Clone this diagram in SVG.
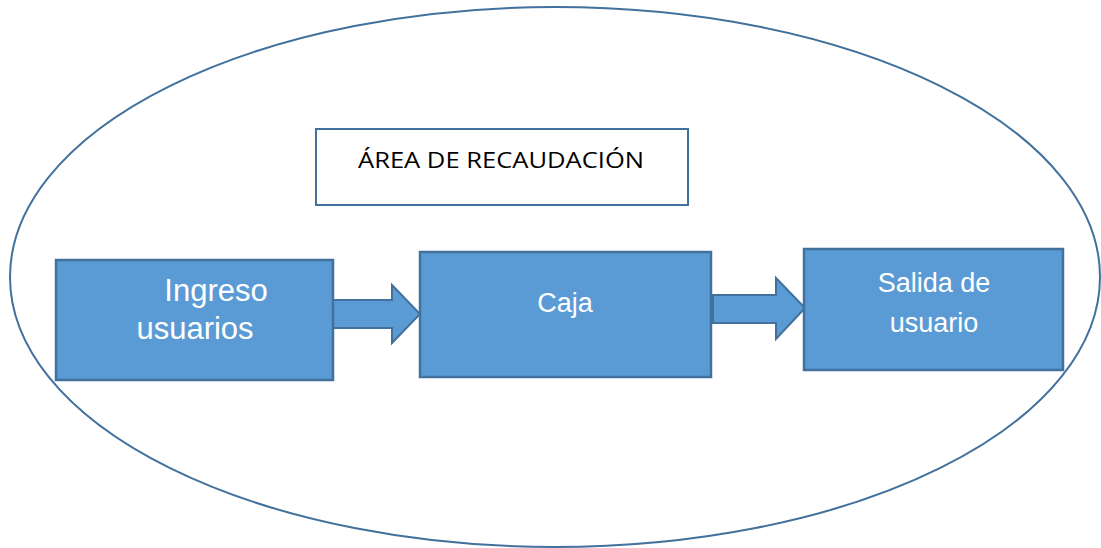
<svg xmlns="http://www.w3.org/2000/svg" width="1101" height="548" viewBox="0 0 1101 548">
<style>
.box{fill:#5b9bd5;stroke:#41719c;stroke-width:2.5}
.arrow{fill:#5b9bd5;stroke:#41719c;stroke-width:2;stroke-linejoin:miter}
.wt{fill:#ffffff;font-family:"Liberation Sans",Arial,sans-serif;text-anchor:middle}
</style>
<rect width="1101" height="548" fill="#ffffff"/>
<g id="area">
<ellipse cx="555" cy="277" rx="545" ry="270" fill="none" stroke="#41719c" stroke-width="2"/>
</g>
<g id="titulo">
<rect x="316" y="129" width="372" height="76" fill="#ffffff" stroke="#41719c" stroke-width="2"/>
<text x="358" y="168" font-family="'Open Sans','Liberation Sans',sans-serif" font-size="21" fill="#000000" textLength="286" lengthAdjust="spacingAndGlyphs">ÁREA DE RECAUDACIÓN</text>
</g>
<g id="connectors">
<polygon class="arrow" points="333,300 392,300 392,285 420,314 392,343 392,328 333,328"/>
<polygon class="arrow" points="713,295 776,295 776,278 805,308 776,339 776,323 713,323"/>
</g>
<g id="ingreso">
<rect class="box" x="56" y="260" width="277" height="120"/>
<text class="wt" x="216" y="301" font-size="31">Ingreso</text>
<text class="wt" x="195" y="339" font-size="31">usuarios</text>
</g>
<g id="caja">
<rect class="box" x="420" y="252" width="291" height="125"/>
<text class="wt" x="565" y="312" font-size="27">Caja</text>
</g>
<g id="salida">
<rect class="box" x="804" y="249" width="259" height="121"/>
<text class="wt" x="934" y="292" font-size="27">Salida de</text>
<text class="wt" x="934" y="332" font-size="27">usuario</text>
</g>
</svg>
